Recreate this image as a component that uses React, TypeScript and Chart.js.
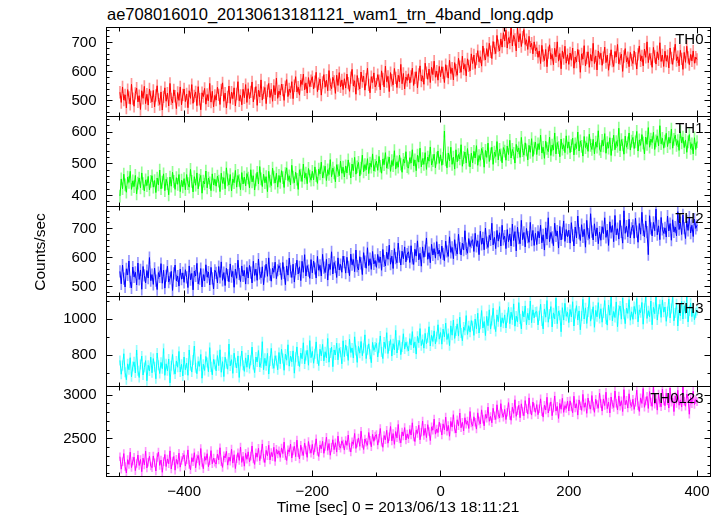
import React, { useEffect, useRef } from 'react';
import { Chart, registerables } from 'chart.js';

Chart.register(...registerables);

// ---- data (time bins: start -500 s, 2 s step) ----
const TIME_START = -500;
const TIME_STEP = 2;
const X_MIN = -521;
const X_MAX = 421;
const X_TICK_LABELS = [-400, -200, 0, 200, 400];

const TH0_TICKS = [500, 600, 700];
const TH1_TICKS = [400, 500, 600];
const TH2_TICKS = [500, 600, 700];
const TH3_TICKS = [800, 1000];
const TH0123_TICKS = [2500, 3000];

// typical 1-sigma error bar of each band (counts/sec)
const TH0_ERR = 20;
const TH1_ERR = 19;
const TH2_ERR = 20;
const TH3_ERR = 26;
const TH0123_ERR = 45;

const TH0 = [
  530, 495, 548, 503, 521, 476, 539, 512, 489, 557, 508, 482, 526, 544, 497, 518, 471, 535, 509, 550, 491, 523, 486, 541, 514,
  497, 536, 480, 519, 552, 505, 488, 531, 469, 514, 545, 499, 527, 483, 560, 507, 493, 538, 516, 474, 529, 502, 548, 487, 521,
  541, 498, 524, 477, 535, 509, 556, 492, 517, 531, 484, 549, 506, 470, 528, 515, 543, 489, 522, 501, 560, 496, 533, 480, 519,
  503, 547, 521, 488, 538, 562, 499, 527, 476, 514, 551, 492, 530, 508, 545, 483, 524, 566, 501, 519, 487, 540, 511, 556, 495,
  542, 508, 531, 565, 497, 526, 549, 485, 537, 514, 572, 503, 528, 546, 491, 535, 560, 512, 540, 499, 553, 521, 578, 509, 534,
  521, 558, 537, 502, 549, 573, 515, 541, 529, 566, 508, 552, 583, 531, 547, 520, 571, 556, 592, 538, 562, 527, 580, 549, 569,
  583, 541, 566, 598, 532, 559, 575, 520, 563, 590, 547, 571, 535, 604, 556, 542, 581, 567, 526, 588, 553, 597, 548, 572, 539,
  576, 544, 592, 561, 533, 580, 608, 551, 569, 523, 587, 558, 541, 599, 566, 585, 537, 574, 612, 555, 528, 583, 563, 596, 548,
  557, 590, 569, 538, 603, 575, 548, 619, 566, 584, 532, 597, 571, 555, 611, 579, 546, 588, 565, 625, 559, 594, 541, 582, 570,
  593, 561, 584, 612, 553, 579, 600, 545, 591, 620, 568, 586, 557, 629, 597, 574, 609, 563, 615, 590, 636, 581, 602, 571, 618,
  583, 617, 596, 563, 624, 601, 578, 639, 594, 612, 572, 631, 605, 588, 646, 617, 598, 653, 609, 625, 586, 644, 620, 603, 661,
  628, 657, 611, 643, 672, 634, 651, 619, 688, 659, 640, 679, 652, 697, 668, 645, 703, 681, 662, 724, 689, 671, 712, 684, 733,
  705, 742, 681, 716, 698, 755, 688, 724, 710, 671, 749, 702, 730, 686, 718, 744, 693, 709, 676, 721, 684, 697, 661, 702, 672,
  682, 649, 671, 628, 690, 655, 638, 676, 617, 665, 692, 643, 659, 624, 680, 651, 702, 636, 662, 610, 671, 645, 687, 629, 658,
  625, 664, 639, 681, 612, 650, 633, 676, 654, 598, 661, 643, 689, 620, 647, 668, 615, 659, 636, 697, 628, 654, 606, 671, 645,
  663, 622, 648, 684, 631, 657, 605, 642, 675, 636, 618, 669, 650, 693, 627, 645, 660, 601, 652, 679, 633, 648, 617, 666, 640,
  628, 671, 646, 609, 659, 688, 637, 654, 620, 677, 649, 702, 631, 662, 643, 615, 683, 652, 626, 668, 641, 699, 635, 657, 618,
  670, 636, 655, 613, 681, 647, 625, 662, 694, 638, 651, 620, 673, 644, 608, 666, 632, 687, 649, 624, 659, 637, 671, 629, 650,
  642,
];

const TH1 = [
  398, 452, 421, 467, 433, 410, 458, 441, 476, 419, 446, 428, 463, 405, 439, 455, 424, 471, 437, 414, 449, 431, 460, 417, 444,
  462, 426, 447, 409, 455, 433, 480, 421, 442, 468, 415, 451, 437, 402, 458, 429, 473, 444, 419, 456, 435, 466, 412, 448, 427,
  453, 418, 466, 437, 426, 482, 444, 411, 459, 432, 471, 421, 448, 463, 407, 445, 436, 477, 424, 455, 440, 415, 468, 433, 451,
  429, 461, 445, 412, 470, 438, 456, 421, 487, 449, 433, 466, 414, 452, 440, 479, 426, 463, 447, 418, 472, 436, 458, 430, 469,
  455, 424, 481, 443, 462, 417, 449, 473, 436, 491, 452, 428, 467, 440, 459, 412, 476, 445, 431, 486, 458, 439, 470, 426, 463,
  441, 478, 456, 425, 469, 487, 447, 462, 433, 495, 458, 440, 473, 451, 419, 481, 464, 444, 499, 455, 470, 437, 485, 461, 448,
  476, 449, 490, 462, 438, 483, 468, 505, 455, 474, 492, 447, 481, 466, 513, 459, 486, 471, 443, 497, 478, 462, 508, 470, 489,
  458, 493, 471, 512, 484, 455, 499, 478, 520, 467, 490, 504, 461, 486, 527, 474, 497, 481, 516, 469, 502, 489, 531, 477, 495,
  508, 479, 523, 492, 470, 515, 497, 535, 486, 503, 521, 476, 510, 494, 541, 483, 506, 489, 527, 499, 473, 514, 502, 538, 491,
  486, 519, 502, 544, 493, 512, 478, 527, 505, 549, 490, 516, 498, 535, 482, 521, 508, 553, 496, 510, 530, 487, 518, 540, 501,
  528, 495, 517, 603, 512, 487, 534, 509, 552, 498, 521, 483, 544, 506, 529, 515, 560, 492, 519, 537, 502, 548, 511, 490, 533,
  503, 539, 518, 557, 495, 526, 511, 548, 533, 489, 542, 520, 565, 507, 531, 552, 498, 537, 523, 570, 512, 545, 528, 503, 551,
  540, 511, 556, 529, 574, 518, 545, 533, 502, 561, 537, 550, 520, 583, 541, 527, 566, 544, 512, 558, 536, 579, 523, 549, 568,
  529, 563, 545, 590, 534, 552, 517, 571, 548, 538, 584, 526, 559, 543, 597, 531, 567, 551, 522, 578, 546, 560, 535, 588, 549,
  569, 535, 557, 581, 528, 563, 548, 600, 540, 572, 555, 524, 586, 551, 566, 539, 593, 558, 545, 577, 531, 568, 552, 604, 546,
  538, 574, 556, 595, 533, 567, 549, 582, 526, 561, 590, 544, 570, 555, 612, 541, 576, 559, 530, 587, 552, 566, 597, 543, 571,
  583, 548, 569, 602, 540, 575, 558, 592, 566, 531, 584, 561, 614, 552, 578, 567, 599, 545, 572, 588, 556, 620, 563, 580, 549,
  571, 596, 554, 583, 565, 609, 549, 577, 590, 558, 573, 542, 601, 566, 584, 551, 575, 536, 569, 592, 548, 563, 531, 582, 545,
  570,
];

const TH2 = [
  552, 509, 574, 527, 498, 561, 540, 588, 516, 495, 567, 533, 549, 505, 581, 524, 557, 490, 569, 538, 512, 555, 529, 600, 520,
  541, 507, 563, 520, 489, 548, 533, 579, 511, 556, 494, 537, 570, 515, 528, 552, 486, 545, 574, 519, 536, 501, 560, 525, 547,
  514, 558, 531, 496, 571, 523, 545, 488, 553, 536, 580, 509, 527, 562, 498, 541, 519, 575, 532, 550, 505, 566, 528, 491, 556,
  547, 512, 569, 531, 585, 521, 548, 503, 563, 539, 516, 578, 534, 552, 497, 560, 528, 591, 543, 517, 571, 536, 555, 508, 566,
  529, 573, 548, 512, 587, 538, 560, 521, 595, 545, 530, 568, 506, 552, 577, 535, 599, 541, 518, 563, 549, 584, 527, 556, 572,
  561, 524, 583, 547, 506, 571, 539, 598, 552, 531, 577, 515, 560, 591, 543, 568, 520, 587, 549, 610, 536, 572, 555, 528, 593,
  547, 588, 562, 529, 604, 556, 573, 536, 611, 565, 548, 594, 522, 577, 559, 620, 543, 583, 568, 531, 599, 557, 576, 549, 605,
  584, 546, 601, 568, 537, 612, 575, 593, 551, 626, 570, 557, 603, 580, 541, 617, 586, 563, 634, 572, 596, 559, 621, 578, 590,
  566, 611, 583, 602, 556, 628, 588, 571, 619, 594, 643, 577, 605, 562, 631, 598, 582, 650, 603, 574, 622, 596, 637, 585, 612,
  620, 583, 641, 597, 576, 629, 605, 658, 592, 615, 570, 637, 601, 624, 668, 594, 617, 582, 646, 609, 631, 598, 655, 612, 626,
  597, 640, 613, 589, 657, 621, 604, 672, 618, 635, 596, 662, 627, 612, 681, 633, 609, 650, 626, 693, 631, 615, 666, 638, 653,
  662, 621, 684, 639, 658, 610, 691, 646, 668, 627, 702, 652, 635, 677, 661, 719, 644, 670, 631, 694, 657, 686, 640, 712, 663,
  674, 631, 697, 655, 682, 640, 716, 659, 690, 623, 705, 667, 648, 729, 662, 687, 637, 701, 671, 653, 722, 660, 694, 642, 684,
  645, 691, 668, 712, 651, 679, 626, 703, 664, 738, 655, 687, 670, 641, 719, 675, 692, 633, 708, 661, 684, 727, 656, 697, 672,
  695, 650, 721, 677, 640, 706, 668, 744, 685, 659, 714, 672, 698, 636, 729, 681, 666, 752, 690, 661, 717, 675, 703, 648, 688,
  660, 707, 683, 738, 670, 695, 642, 724, 687, 711, 655, 746, 679, 700, 664, 729, 689, 650, 762, 684, 709, 672, 733, 668, 701,
  712, 667, 736, 690, 653, 718, 681, 757, 696, 672, 727, 688, 610, 745, 701, 675, 722, 693, 768, 679, 710, 662, 739, 698, 684,
  703, 671, 744, 692, 718, 660, 731, 689, 706, 675, 759, 697, 721, 680, 748, 702, 666, 727, 694, 740, 685, 712, 673, 733, 701,
  712,
];

const TH3 = [
  771, 694, 742, 808, 705, 663, 752, 719, 786, 680, 737, 763, 701, 829, 714, 676, 748, 795, 690, 731, 770, 658, 744, 712, 789,
  702, 781, 736, 669, 812, 744, 698, 760, 725, 837, 688, 752, 713, 779, 646, 741, 804, 720, 695, 768, 733, 821, 707, 749, 684,
  790, 719, 756, 688, 829, 742, 706, 773, 851, 730, 697, 765, 738, 804, 672, 750, 715, 793, 759, 708, 842, 735, 691, 777, 748,
  713, 798, 742, 830, 705, 764, 681, 789, 752, 722, 862, 740, 775, 699, 811, 758, 729, 796, 676, 767, 823, 744, 710, 785, 733,
  801, 726, 772, 845, 748, 703, 790, 762, 826, 734, 757, 875, 719, 783, 741, 810, 695, 768, 838, 752, 727, 797, 770, 719, 815,
  752, 833, 781, 716, 806, 772, 858, 739, 795, 763, 824, 700, 789, 846, 768, 737, 812, 780, 869, 751, 798, 827, 744, 881, 786,
  821, 755, 808, 874, 779, 742, 833, 796, 860, 768, 819, 785, 893, 761, 812, 845, 736, 829, 801, 867, 774, 838, 817, 752, 880,
  792, 857, 823, 771, 889, 815, 840, 784, 902, 826, 760, 849, 811, 876, 797, 839, 913, 781, 830, 863, 805, 758, 871, 827, 846,
  866, 790, 842, 907, 818, 781, 873, 837, 925, 809, 851, 886, 795, 864, 829, 938, 812, 857, 881, 803, 846, 919, 834, 872, 848,
  823, 892, 856, 931, 840, 874, 806, 905, 869, 948, 853, 887, 839, 921, 864, 897, 958, 851, 910, 876, 935, 862, 903, 969, 889,
  926, 861, 945, 902, 978, 887, 920, 853, 963, 911, 995, 893, 934, 974, 906, 1011, 923, 880, 956, 938, 1020, 915, 964, 928, 992,
  964, 910, 1001, 947, 1033, 923, 972, 1048, 951, 987, 909, 1016, 964, 1052, 945, 993, 1061, 972, 931, 1024, 986, 1070, 958, 1008, 977,
  1024, 951, 1008, 1066, 975, 1039, 997, 1085, 961, 1017, 984, 1092, 1001, 946, 1046, 1012, 1074, 969, 1033, 995, 1101, 980, 1052, 1007, 1040,
  1042, 968, 1019, 1083, 990, 946, 1057, 1011, 1104, 983, 1029, 1070, 957, 1035, 1001, 1117, 975, 1046, 1022, 930, 1064, 995, 1088, 1016, 1038,
  981, 1054, 1012, 1097, 962, 1031, 1075, 995, 1046, 941, 1018, 1110, 1001, 1063, 976, 1040, 1121, 989, 1027, 1069, 955, 1049, 1013, 1092, 1004,
  1058, 983, 1035, 1104, 1001, 967, 1079, 1022, 1126, 990, 1043, 1009, 1096, 958, 1050, 1073, 1000, 1118, 1027, 975, 1062, 1032, 1109, 994, 1041,
  999, 1071, 1028, 1115, 985, 1052, 1036, 1093, 972, 1060, 1124, 1004, 1047, 1013, 1101, 969, 1066, 1030, 1126, 995, 1055, 1082, 1010, 1107, 1039,
  1068, 988, 1043, 1112, 1007, 1059, 1121, 991, 1034, 1085, 962, 1052, 1019, 1098, 1001, 1075, 1030, 1126, 985, 1046, 1090, 1014, 1063, 997, 1035,
  1048,
];

const TH0123 = [
  2296, 2153, 2238, 2331, 2184, 2109, 2262, 2207, 2347, 2171, 2245, 2290, 2136, 2218, 2315, 2195, 2263, 2124, 2279, 2202, 2358, 2167, 2233, 2301, 2189,
  2170, 2304, 2225, 2132, 2286, 2349, 2196, 2258, 2117, 2239, 2321, 2183, 2270, 2214, 2362, 2155, 2247, 2298, 2141, 2265, 2209, 2336, 2176, 2251, 2289,
  2317, 2188, 2262, 2373, 2205, 2146, 2284, 2238, 2341, 2169, 2271, 2310, 2197, 2389, 2229, 2158, 2296, 2256, 2330, 2181, 2248, 2365, 2214, 2279, 2232,
  2211, 2326, 2259, 2398, 2237, 2173, 2305, 2281, 2357, 2199, 2290, 2244, 2382, 2222, 2318, 2160, 2273, 2341, 2253, 2406, 2230, 2299, 2187, 2334, 2266,
  2351, 2236, 2302, 2418, 2268, 2207, 2339, 2290, 2392, 2249, 2321, 2441, 2277, 2229, 2368, 2305, 2426, 2258, 2344, 2296, 2403, 2241, 2379, 2326, 2362,
  2287, 2396, 2331, 2462, 2305, 2252, 2375, 2348, 2439, 2281, 2362, 2414, 2296, 2485, 2340, 2269, 2427, 2356, 2309, 2451, 2371, 2288, 2469, 2382, 2336,
  2436, 2319, 2397, 2500, 2355, 2298, 2428, 2386, 2472, 2334, 2411, 2519, 2367, 2446, 2312, 2402, 2489, 2376, 2455, 2348, 2531, 2420, 2393, 2476, 2441,
  2371, 2479, 2425, 2543, 2402, 2350, 2466, 2437, 2561, 2390, 2452, 2510, 2414, 2587, 2447, 2378, 2498, 2460, 2426, 2572, 2483, 2409, 2551, 2471, 2532,
  2549, 2428, 2506, 2618, 2462, 2403, 2537, 2489, 2597, 2450, 2523, 2641, 2476, 2560, 2437, 2583, 2511, 2664, 2498, 2454, 2579, 2532, 2628, 2487, 2556,
  2501, 2607, 2543, 2683, 2522, 2469, 2598, 2561, 2655, 2489, 2576, 2703, 2538, 2620, 2514, 2662, 2584, 2480, 2637, 2599, 2725, 2553, 2612, 2572, 2690,
  2629, 2544, 2671, 2602, 2748, 2587, 2653, 2529, 2699, 2634, 2776, 2611, 2566, 2718, 2648, 2795, 2626, 2689, 2591, 2741, 2667, 2704, 2618, 2812, 2680,
  2645, 2752, 2689, 2611, 2797, 2704, 2669, 2831, 2725, 2648, 2778, 2736, 2862, 2700, 2756, 2683, 2849, 2764, 2721, 2889, 2777, 2739, 2902, 2790, 2748,
  2836, 2720, 2804, 2914, 2768, 2712, 2861, 2790, 2946, 2757, 2822, 2883, 2741, 2900, 2811, 2764, 2937, 2845, 2782, 2968, 2830, 2771, 2921, 2859, 2803,
  2891, 2776, 2843, 2957, 2810, 2748, 2884, 2829, 2975, 2795, 2866, 2922, 2764, 2853, 2990, 2817, 2871, 2733, 2904, 2838, 2963, 2802, 2879, 2846, 2930,
  2818, 2934, 2865, 2798, 2987, 2852, 2901, 2771, 2945, 2879, 2825, 3008, 2860, 2912, 2791, 2966, 2887, 2839, 2995, 2874, 2803, 2953, 2893, 2849, 3021,
  2903, 2817, 2956, 2880, 3033, 2845, 2921, 2796, 2978, 2892, 2858, 3046, 2907, 2830, 2990, 2873, 2936, 2812, 3062, 2889, 2940, 2851, 3015, 2898, 2869,
  2952, 2836, 2917, 3057, 2879, 2813, 2968, 2904, 3075, 2860, 2931, 2985, 2847, 3040, 2921, 2871, 3090, 2896, 2958, 2828, 3012, 2910, 2866, 3068, 2933,
  2879, 3023, 2936, 2852, 3081, 2917, 2968, 2811, 2990, 2905, 3055, 2884, 2945, 2863, 3096, 2929, 2872, 3012, 2958, 2781, 2976, 2900, 3044, 2893, 2950,
  2925,
];

const PANELS = [
  { name: 'TH0', values: TH0, err: TH0_ERR, ticks: TH0_TICKS, color: '#ff0000', halo: 'rgba(255,0,0,0.42)', min: 447, max: 751, major: 100, minor: 20 },
  { name: 'TH1', values: TH1, err: TH1_ERR, ticks: TH1_TICKS, color: '#00ff00', halo: 'rgba(0,255,0,0.42)', min: 365, max: 649, major: 100, minor: 20 },
  { name: 'TH2', values: TH2, err: TH2_ERR, ticks: TH2_TICKS, color: '#0000ff', halo: 'rgba(0,0,255,0.42)', min: 465, max: 777, major: 100, minor: 20 },
  { name: 'TH3', values: TH3, err: TH3_ERR, ticks: TH3_TICKS, color: '#00ffff', halo: 'rgba(0,255,255,0.42)', min: 626, max: 1126, major: 200, minor: 100 },
  { name: 'TH0123', values: TH0123, err: TH0123_ERR, ticks: TH0123_TICKS, color: '#ff00ff', halo: 'rgba(255,0,255,0.42)', min: 2069, max: 3098, major: 500, minor: 100 },
];

// ---- layout ----
const EDGES = [27.5, 116.5, 206.5, 296.5, 386.5, 476.5];
const PAD = 20.5;
const X_AXIS_H = 23;
const BOTTOM_PAD = 3.5;
const FONT_FAMILY = '"Liberation Sans", Arial, Helvetica, sans-serif';

function makePanelPlugin(p: any) {
  return {
    id: 'panelFrame',
    afterDraw(chart: any) {
      const { ctx, chartArea: a, scales } = chart;
      const xs = scales.x;
      const ys = scales.y;
      ctx.save();
      ctx.strokeStyle = '#000';
      ctx.lineWidth = 1;
      ctx.beginPath();
      for (let v = Math.ceil(p.min / p.minor) * p.minor; v <= p.max; v += p.minor) {
        const y = Math.round(ys.getPixelForValue(v) - 0.5) + 0.5;
        const len = v % p.major === 0 ? 6 : 3;
        ctx.moveTo(a.left, y);
        ctx.lineTo(a.left + len, y);
        ctx.moveTo(a.right, y);
        ctx.lineTo(a.right - len, y);
      }
      for (let t = -500; t <= 400; t += 100) {
        const x = Math.round(xs.getPixelForValue(t) - 0.5) + 0.5;
        const len = t % 200 === 0 ? 6 : 4;
        ctx.moveTo(x, a.top);
        ctx.lineTo(x, a.top + len);
        ctx.moveTo(x, a.bottom);
        ctx.lineTo(x, a.bottom - len);
      }
      ctx.stroke();
      ctx.strokeRect(a.left, a.top, a.right - a.left, a.bottom - a.top);
      ctx.fillStyle = '#000';
      ctx.font = `15px ${FONT_FAMILY}`;
      ctx.textAlign = 'right';
      ctx.textBaseline = 'alphabetic';
      ctx.fillText(p.name, a.right - 7, a.top + 16);
      ctx.restore();
    },
  };
}

export default function App() {
  const refs = useRef<(HTMLCanvasElement | null)[]>([]);

  useEffect(() => {
    const charts = PANELS.map((p, i) => {
      const isBottom = i === PANELS.length - 1;
      const points = p.values.map((v, k) => ({ x: TIME_START + k * TIME_STEP, y: v }));
      const errBars = p.values.map((v, k) => ({ x: TIME_START + k * TIME_STEP, y: [v - p.err, v + p.err] }));
      return new Chart(refs.current[i] as HTMLCanvasElement, {
        type: 'line',
        data: {
          datasets: [
            {
              type: 'line',
              order: 0,
              data: points,
              borderColor: p.color,
              borderWidth: 1,
              borderJoinStyle: 'bevel',
              pointRadius: 0,
              tension: 0,
              fill: false,
            },
            {
              type: 'bar',
              order: 1,
              data: errBars,
              backgroundColor: p.halo,
              borderWidth: 0,
              barThickness: 1,
              categoryPercentage: 1,
              barPercentage: 1,
            },
          ],
        },
        options: {
          responsive: false,
          animation: false,
          devicePixelRatio: 1,
          events: [],
          layout: { padding: { left: 0, right: 13.5, top: PAD, bottom: isBottom ? BOTTOM_PAD : PAD } },
          plugins: { legend: { display: false }, tooltip: { enabled: false }, title: { display: false } },
          scales: {
            x: {
              type: 'linear',
              min: X_MIN,
              max: X_MAX,
              offset: false,
              display: isBottom,
              grid: { display: false, drawTicks: false, offset: false },
              border: { display: false },
              afterBuildTicks: (s: any) => {
                s.ticks = X_TICK_LABELS.map((v) => ({ value: v }));
              },
              ticks: {
                color: '#000',
                padding: 6,
                maxRotation: 0,
                autoSkip: false,
                font: { family: FONT_FAMILY, size: 15 },
                callback: (v: any) => (Number(v) < 0 ? '\u2212' + Math.abs(Number(v)) : String(v)),
              },
              afterFit: (s: any) => {
                s.height = isBottom ? X_AXIS_H : 0;
              },
            },
            y: {
              type: 'linear',
              min: p.min,
              max: p.max,
              grid: { display: false, drawTicks: false },
              border: { display: false },
              afterBuildTicks: (s: any) => {
                s.ticks = p.ticks.map((v: number) => ({ value: v }));
              },
              ticks: {
                color: '#000',
                padding: 10,
                autoSkip: false,
                font: { family: FONT_FAMILY, size: 15 },
                callback: (v: any) => String(v),
              },
              afterFit: (s: any) => {
                s.width = 106.5;
              },
            },
          },
        },
        plugins: [makePanelPlugin(p)],
      } as any);
    });
    return () => charts.forEach((c) => c.destroy());
  }, []);

  return (
    <div
      style={{
        position: 'fixed',
        left: 0,
        top: 0,
        width: 724,
        height: 516,
        background: '#fff',
        fontFamily: FONT_FAMILY,
        color: '#000',
        overflow: 'hidden',
      }}
    >
      <div style={{ position: 'absolute', left: 107, top: 6, fontSize: 16.5, lineHeight: '16px', whiteSpace: 'nowrap' }}>
        ae708016010_20130613181121_wam1_trn_4band_long.qdp
      </div>
      {PANELS.map((p, i) => {
        const isBottom = i === PANELS.length - 1;
        const top = EDGES[i] - PAD;
        const h = EDGES[i + 1] - EDGES[i] + PAD + (isBottom ? X_AXIS_H + BOTTOM_PAD : PAD);
        return (
          <canvas
            key={p.name}
            ref={(el) => {
              refs.current[i] = el;
            }}
            width={724}
            height={h}
            style={{ position: 'absolute', left: 0, top, width: 724, height: h }}
          />
        );
      })}
      <div
        style={{
          position: 'absolute',
          left: 40 - 60,
          top: 252 - 9,
          width: 120,
          height: 18,
          lineHeight: '18px',
          fontSize: 15.5,
          textAlign: 'center',
          transform: 'rotate(-90deg)',
          whiteSpace: 'nowrap',
        }}
      >
        Counts/sec
      </div>
      <div
        style={{
          position: 'absolute',
          left: 398 - 200,
          top: 498,
          width: 400,
          lineHeight: '18px',
          fontSize: 15.5,
          textAlign: 'center',
          whiteSpace: 'nowrap',
        }}
      >
        Time [sec] 0 = 2013/06/13 18:11:21
      </div>
    </div>
  );
}
